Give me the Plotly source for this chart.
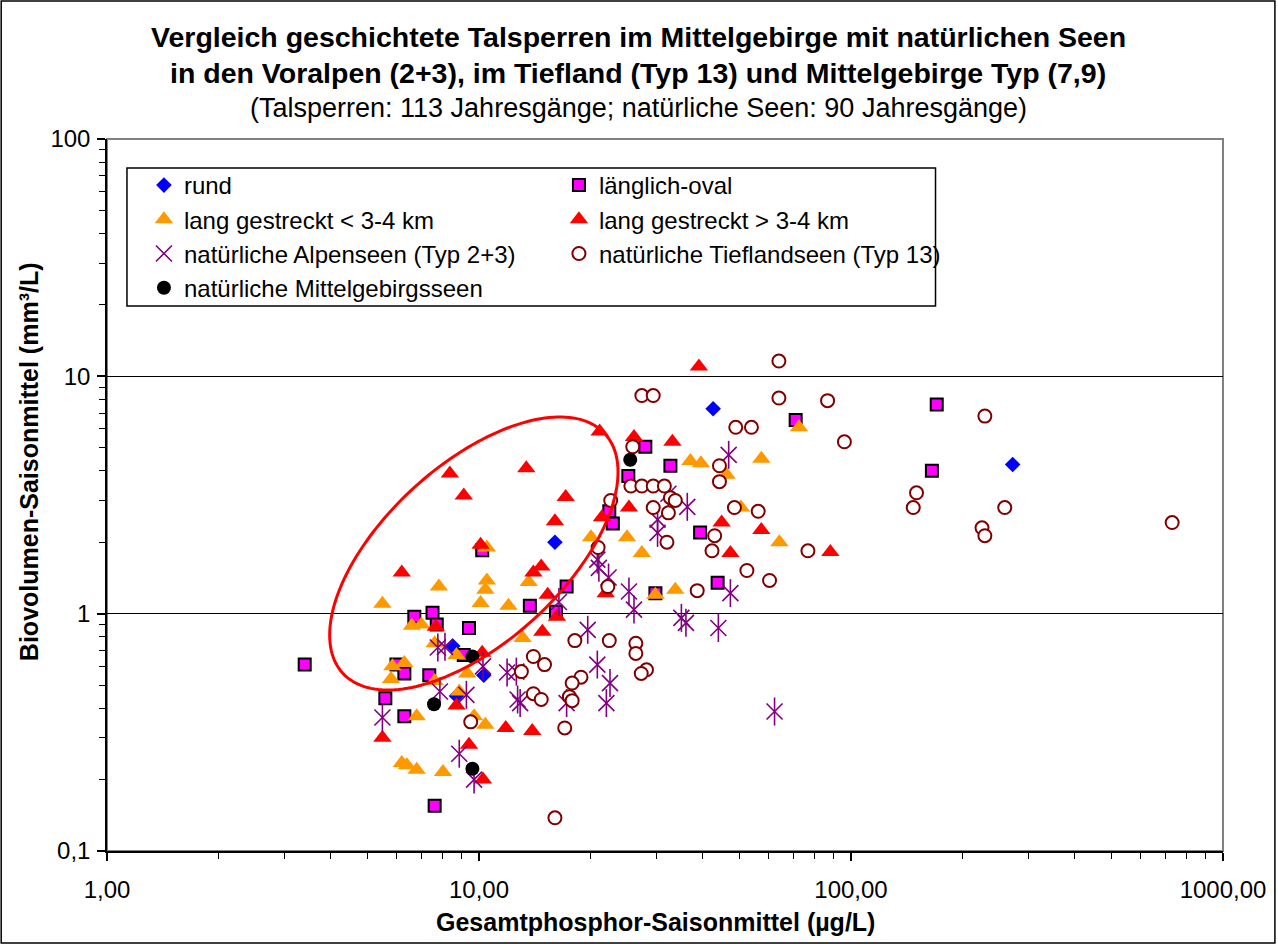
import numpy as np
import plotly.graph_objects as go

# ---------------- data ----------------
rund_x = [42.6, 272, 16.0, 8.5, 10.3, 8.7]
rund_y = [7.3, 4.25, 2.0, 0.73, 0.55, 0.45]

oval_x = [3.4, 5.6, 6.3, 6.7, 7.5, 7.7, 9.4, 9.1, 6.0, 6.3, 7.35, 7.6, 10.2, 13.7,
          17.2, 16.1, 28, 32.7, 25.2, 22.4, 22.9, 39.3, 43.8, 29.8, 71, 170, 165]
oval_y = [0.61, 0.44, 0.37, 0.97, 1.01, 0.9, 0.87, 0.67, 0.61, 0.56, 0.55, 0.155, 1.85, 1.08,
          1.3, 1.02, 5.05, 4.2, 3.8, 2.7, 2.4, 2.2, 1.35, 1.22, 6.55, 7.6, 4.0]

kurz_x = [5.5, 7.8, 10.5, 10.4, 10.1, 12.0, 6.6, 7.0, 7.6, 8.7, 5.85, 6.3, 5.8, 7.6, 9.3,
          8.85, 13.1, 13.6, 10.5, 20, 25, 27.4, 33.7, 29.8, 37, 39.5, 57.4, 72.5, 46.3,
          50.6, 64.2, 6.8, 9.7, 10.4, 6.2, 6.4, 6.8, 8.0]
kurz_y = [1.1, 1.3, 1.38, 1.26, 1.11, 1.08, 0.89, 0.9, 0.75, 0.67, 0.6, 0.62, 0.53, 0.52, 0.56,
          0.47, 0.79, 1.36, 1.9, 2.1, 2.1, 1.8, 1.26, 1.2, 4.4, 4.3, 4.5, 6.1, 3.85,
          2.8, 2.0, 0.37, 0.37, 0.34, 0.235, 0.23, 0.22, 0.215]

lang_x = [39, 21.1, 26.1, 33.1, 13.4, 8.35, 9.1, 17.1, 16.0, 25.3, 21.4, 44.9, 10.1, 57.4,
          47.4, 88, 14.7, 14.0, 15.3, 21.9, 16.2, 14.8, 10.2, 11.8, 13.9, 6.2, 7.65, 8.7,
          5.5, 9.4, 10.25]
lang_y = [11.0, 5.85, 5.55, 5.3, 4.1, 3.9, 3.15, 3.1, 2.45, 2.8, 2.55, 2.42, 1.95, 2.25,
          1.8, 1.82, 1.58, 1.49, 1.2, 1.22, 0.97, 0.84, 0.685, 0.33, 0.32, 1.49, 0.88, 0.41,
          0.30, 0.28, 0.2]

alpen_x = [5.5, 7.75, 8.1, 7.85, 9.25, 10.25, 8.85, 9.7, 11.9, 12.6, 12.7, 12.9, 17.2, 20.8,
           22.5, 22.0, 19.6, 16.4, 25.3, 26.1, 35, 36, 44, 47.4, 62.3, 20.8, 21, 22.3, 30.2,
           30.2, 36.3, 46.9, 32.3]
alpen_y = [0.365, 0.72, 0.725, 0.47, 0.455, 0.6, 0.257, 0.2, 0.565, 0.57, 0.435, 0.42, 0.42,
           0.61, 0.51, 0.42, 0.855, 1.12, 1.24, 1.04, 0.96, 0.915, 0.87, 1.22, 0.387, 1.69,
           1.56, 1.42, 2.49, 2.19, 2.82, 4.67, 3.2]

tief_x = [64, 27.4, 29.4, 64, 86.5, 49, 54, 96, 25.9, 44.3, 44.3, 25.6, 27.4, 29.4, 31.5,
          32.7, 33.7, 22.6, 29.4, 32.3, 48.6, 56.3, 43, 42.3, 32, 20.9, 76.6, 52.5, 60.4,
          22.2, 38.6, 18.1, 22.4, 26.4, 26.4, 14.0, 15.0, 13.0, 28.2, 27.3, 18.8, 17.8, 14,
          14.7, 17.5, 17.8, 17, 16, 9.5, 229, 150, 147, 259, 225, 229, 730]
tief_y = [11.6, 8.3, 8.3, 8.1, 7.9, 6.1, 6.1, 5.3, 5.05, 4.2, 3.6, 3.45, 3.45, 3.45, 3.45,
          3.08, 3.0, 3.0, 2.8, 2.66, 2.8, 2.7, 2.13, 1.84, 2.0, 1.9, 1.84, 1.52, 1.38,
          1.3, 1.25, 0.77, 0.77, 0.75, 0.68, 0.66, 0.61, 0.57, 0.58, 0.56, 0.54, 0.51, 0.46,
          0.435, 0.447, 0.43, 0.33, 0.138, 0.35, 6.8, 3.23, 2.8, 2.8, 2.3, 2.13, 2.42]

mittel_x = [25.5, 9.6, 7.57, 9.6]
mittel_y = [4.45, 0.66, 0.415, 0.222]

x_tickvals = [1, 10, 100, 1000]
x_ticktext = ["1,00", "10,00", "100,00", "1000,00"]
y_tickvals = [0.1, 1, 10, 100]
y_ticktext = ["0,1", "1", "10", "100"]

title_lines = [
    "Vergleich geschichtete Talsperren im Mittelgebirge mit natürlichen Seen",
    "in den Voralpen (2+3), im Tiefland (Typ 13) und Mittelgebirge Typ (7,9)",
    "(Talsperren: 113 Jahresgänge; natürliche Seen: 90 Jahresgänge)",
]
x_title = "Gesamtphosphor-Saisonmittel (µg/L)"
y_title = "Biovolumen-Saisonmittel (mm³/L)"

# ---------------- layout geometry ----------------
W, H = 1278, 944
L, R, T, B = 107, 53, 139, 93
PW, PH = W - L - R, H - T - B
FONT = "Arial, Liberation Sans, sans-serif"


def px2paper(px, py):
    return (px - L) / PW, (H - B - py) / PH


fig = go.Figure()

fig.add_trace(go.Scatter(x=rund_x, y=rund_y, mode="markers", name="rund",
                         marker=dict(symbol="diamond", size=12, color="#0000FF",
                                     line=dict(width=0))))
fig.add_trace(go.Scatter(x=oval_x, y=oval_y, mode="markers", name="länglich-oval",
                         marker=dict(symbol="square", size=12, color="#FF00FF",
                                     line=dict(width=2, color="#000000"))))
fig.add_trace(go.Scatter(x=kurz_x, y=kurz_y, mode="markers", name="lang gestreckt < 3-4 km",
                         marker=dict(symbol="triangle-up", size=16, color="#FF9900",
                                     line=dict(width=0))))
fig.add_trace(go.Scatter(x=lang_x, y=lang_y, mode="markers", name="lang gestreckt > 3-4 km",
                         marker=dict(symbol="triangle-up", size=16, color="#FF0000",
                                     line=dict(width=0))))
fig.add_trace(go.Scatter(x=alpen_x, y=alpen_y, mode="markers",
                         name="natürliche Alpenseen (Typ 2+3)", legendgroup="alpen",
                         marker=dict(symbol="x-thin-open", size=16, color="#800080",
                                     line=dict(width=1.6, color="#800080"))))
fig.add_trace(go.Scatter(x=alpen_x, y=alpen_y, mode="markers", showlegend=False,
                         legendgroup="alpen", hoverinfo="skip",
                         marker=dict(symbol="line-ns-open", size=20, color="#800080",
                                     line=dict(width=1.6, color="#800080"))))
fig.add_trace(go.Scatter(x=tief_x, y=tief_y, mode="markers",
                         name="natürliche Tieflandseen (Typ 13)",
                         marker=dict(symbol="circle", size=13, color="#FFFFFF",
                                     line=dict(width=2, color="#800000"))))
fig.add_trace(go.Scatter(x=mittel_x, y=mittel_y, mode="markers",
                         name="natürliche Mittelgebirgsseen",
                         marker=dict(symbol="circle", size=14, color="#000000",
                                     line=dict(width=0))))

# ellipse (pixel space of the figure -> paper coords)
cx, cy, a, b, theta = 474.5, 553.5, 177.7, 89.0, np.deg2rad(42.3)
t = np.linspace(0, 2 * np.pi, 181)
ex = cx + a * np.cos(t) * np.cos(theta) - b * np.sin(t) * np.sin(theta)
ey = cy - (a * np.cos(t) * np.sin(theta) + b * np.sin(t) * np.cos(theta))
pts = [px2paper(xx, yy) for xx, yy in zip(ex, ey)]
path = "M " + " L ".join(f"{p[0]:.5f},{p[1]:.5f}" for p in pts) + " Z"

shapes = [
    dict(type="path", xref="paper", yref="paper", path=path,
         line=dict(color="#FF0000", width=3), layer="above"),
    dict(type="rect", xref="paper", yref="paper", x0=0, y0=0, x1=1, y1=1,
         line=dict(color="#808080", width=2), layer="below"),
]
lx0, ly0 = px2paper(127, 306)
lx1, ly1 = px2paper(937, 168)
shapes.append(dict(type="rect", xref="paper", yref="paper", x0=lx0, y0=ly0, x1=lx1, y1=ly1,
                   line=dict(color="#000000", width=1.5), fillcolor="rgba(0,0,0,0)",
                   layer="above"))
ox0, oy0 = px2paper(1, 943)
ox1, oy1 = px2paper(1277, 1)
shapes.append(dict(type="rect", xref="paper", yref="paper", x0=ox0, y0=oy0, x1=ox1, y1=oy1,
                   line=dict(color="#000000", width=1.5), layer="above"))

annotations = []
for txt, py, size, bold in [(title_lines[0], 37, 28.5, True),
                            (title_lines[1], 73, 28.5, True),
                            (title_lines[2], 108, 27, False)]:
    xp, yp = px2paper(639, py)
    annotations.append(dict(text=f"<b>{txt}</b>" if bold else txt, x=xp, y=yp,
                            xref="paper", yref="paper", xanchor="center", yanchor="middle",
                            showarrow=False, font=dict(family=FONT, size=size, color="#000")))
xp, yp = px2paper(656, 922)
annotations.append(dict(text=f"<b>{x_title}</b>", x=xp, y=yp, xref="paper", yref="paper",
                        xanchor="center", yanchor="middle", showarrow=False,
                        font=dict(family=FONT, size=25, color="#000")))
xp, yp = px2paper(29, 462)
annotations.append(dict(text=f"<b>{y_title}</b>", x=xp, y=yp, xref="paper", yref="paper",
                        xanchor="center", yanchor="middle", textangle=-90, showarrow=False,
                        font=dict(family=FONT, size=25, color="#000")))

minor_x = [v * d for d in (1, 10, 100) for v in range(2, 10)]
minor_y = [v * d for d in (0.1, 1, 10) for v in range(2, 10)]

legx, legy = px2paper(144, 163)

fig.update_layout(
    width=W, height=H,
    margin=dict(l=L, r=R, t=T, b=B, pad=0),
    paper_bgcolor="#FFFFFF", plot_bgcolor="#FFFFFF",
    font=dict(family=FONT, size=24, color="#000000"),
    showlegend=True,
    legend=dict(orientation="h", x=legx, y=legy, xanchor="left", yanchor="top",
                entrywidth=370, entrywidthmode="pixels", bgcolor="rgba(0,0,0,0)",
                borderwidth=0, font=dict(family=FONT, size=24, color="#000"),
                itemsizing="trace", tracegroupgap=0),
    shapes=shapes,
    annotations=annotations,
    xaxis=dict(type="log", range=[0, 3], tickvals=x_tickvals, ticktext=x_ticktext,
               showgrid=False, zeroline=False, showline=True, linecolor="#000000",
               linewidth=1.5, ticks="outside", ticklen=8, tickwidth=1.5,
               tickcolor="#000000", ticklabelstandoff=8,
               tickfont=dict(family=FONT, size=24, color="#000"),
               minor=dict(tickvals=minor_x, ticks="outside", ticklen=6, tickwidth=1,
                          tickcolor="#000000", showgrid=False)),
    yaxis=dict(type="log", range=[-1, 2], tickvals=y_tickvals, ticktext=y_ticktext,
               showgrid=True, gridcolor="#000000", gridwidth=1, zeroline=False,
               showline=True, linecolor="#000000", linewidth=1.5, ticks="outside",
               ticklen=8, tickwidth=1.5, tickcolor="#000000", ticklabelstandoff=2,
               tickfont=dict(family=FONT, size=24, color="#000"),
               minor=dict(tickvals=minor_y, ticks="outside", ticklen=6, tickwidth=1,
                          tickcolor="#000000", showgrid=False)),
)

fig.write_html("out.html", config={"displayModeBar": False},
               post_script="document.body.style.margin='0px';document.body.style.padding='0px';")
